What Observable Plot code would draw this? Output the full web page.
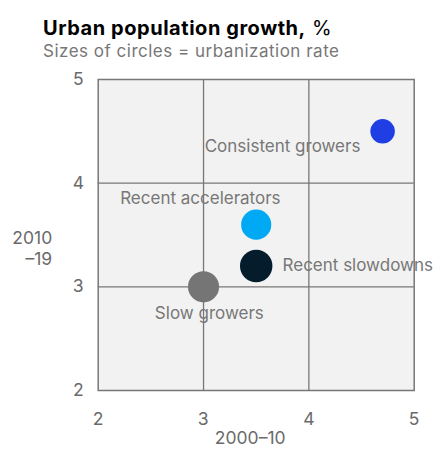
<!DOCTYPE html>
<html><head><meta charset="utf-8">
<script src="https://cdn.jsdelivr.net/npm/d3@7"></script>
<script src="https://cdn.jsdelivr.net/npm/@observablehq/plot@0.6"></script>
<style>
body{margin:0;background:#fff;font-family:Inter,"Liberation Sans",Arial,sans-serif;}
#t{position:absolute;left:43px;top:16px;font-size:20px;color:#000;line-height:24px;letter-spacing:0.55px;}
#t b{font-weight:700;}
#t span{font-weight:400;}
#s{position:absolute;left:43px;top:40px;font-size:17px;color:#777;line-height:22px;letter-spacing:0.5px;}
#c{position:absolute;left:0;top:66px;}
</style></head><body>
<div id="t"><b>Urban population growth,</b> <span>%</span></div>
<div id="s">Sizes of circles = urbanization rate</div>
<div id="c"></div>
<script>
const segments = ["Consistent growers","Recent accelerators","Recent slowdowns","Slow growers"];
const growth2000_10 = [4.7, 3.5, 3.5, 3.0];
const growth2010_19 = [4.5, 3.6, 3.2, 3.0];
const urbanization = [49, 74, 86, 79];
const colors = ["#1f3fe5","#00a9f4","#051c2c","#757575"];
const labelX = [3.75, 2.97, 3.75, 3.055];
const labelY = [4.35, 3.85, 3.21, 2.74];
const labelAnchor = ["middle","middle","start","middle"];
const xTicks = [2,3,4,5];
const yTicks = [2,3,4,5];
const gridVals = [3,4];

const pts = segments.map((s,i)=>({s, x:growth2000_10[i], y:growth2010_19[i], r:urbanization[i], c:colors[i]}));
const labs = segments.map((s,i)=>({s, x:labelX[i], y:labelY[i], a:labelAnchor[i]}));
const gray = "#777";
const font = "Inter, Liberation Sans, Arial, sans-serif";
const chart = Plot.plot({
  width: 441, height: 384,
  marginLeft: 97.7, marginRight: 27.3, marginTop: 13, marginBottom: 60,
  style: {fontFamily: font, fontSize: "17px", background: "transparent"},
  x: {domain: [2,5], ticks: xTicks},
  y: {domain: [2,5], ticks: yTicks},
  r: {domain: [0,100], range: [0,17.5]},
  marks: [
    Plot.frame({fill: "#f2f2f2", stroke: null}),
    Plot.ruleX(gridVals, {stroke: gray, strokeWidth: 1.3}),
    Plot.ruleY(gridVals, {stroke: gray, strokeWidth: 1.3}),
    Plot.frame({stroke: gray, strokeWidth: 1.5}),
    Plot.axisX({ticks: xTicks, tickFormat: d3.format("d"), tickSize: 0, tickPadding: 22, fill: "#6a6a6a", fontSize: 17.5, label: null}),
    Plot.axisY({ticks: yTicks, tickFormat: d3.format("d"), tickSize: 0, tickPadding: 14, fill: "#6a6a6a", fontSize: 17.5, label: null}),
    Plot.text(["2000–10"], {frameAnchor: "bottom", dy: 53, dx: -6, fill: "#6a6a6a", fontSize: 17.5}),
    Plot.text(["2010\n–19"], {frameAnchor: "left", dx: -46, dy: 13, textAnchor: "end", fill: "#6a6a6a", fontSize: 17.5, lineHeight: 1.2}),
    Plot.dot(pts, {x: "x", y: "y", r: "r", fill: "c", stroke: null}),
    Plot.text(labs.filter(d => d.a === "middle"), {x: "x", y: "y", text: "s", textAnchor: "middle", fill: gray, fontSize: 17}),
    Plot.text(labs.filter(d => d.a === "start"), {x: "x", y: "y", text: "s", textAnchor: "start", fill: gray, fontSize: 17})
  ]
});
document.getElementById("c").appendChild(chart);
</script>
</body></html>
